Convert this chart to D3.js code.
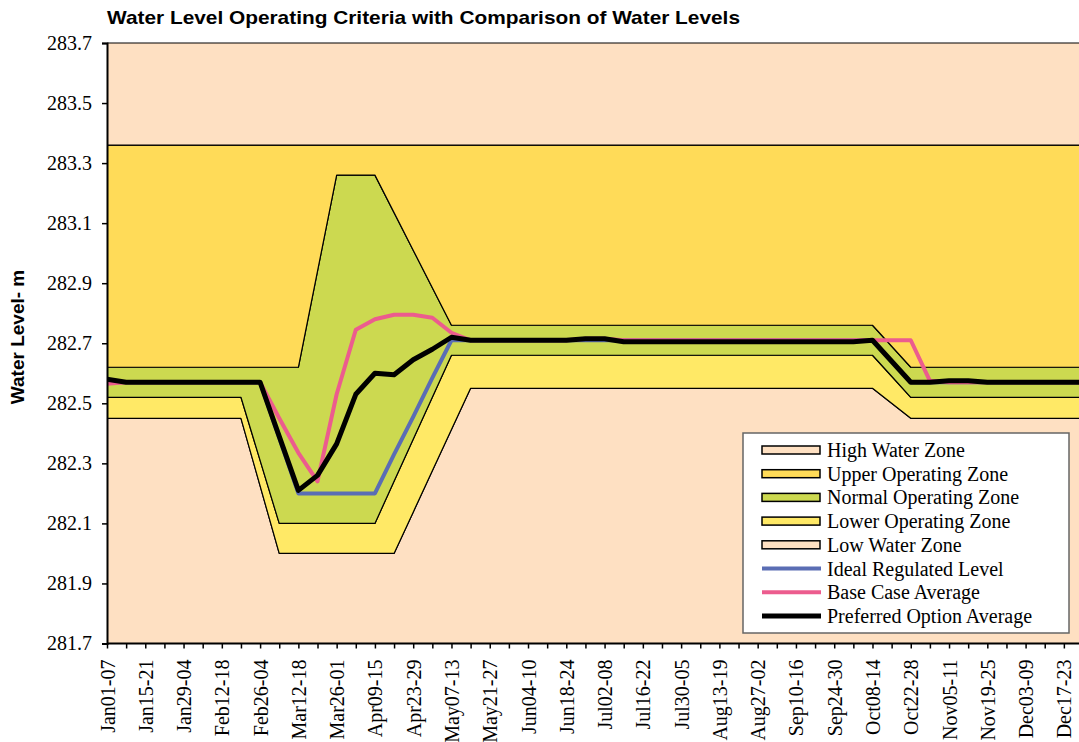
<!DOCTYPE html>
<html lang="en">
<head>
    <meta charset="UTF-8">
    <title>Water Level Operating Criteria</title>
    <script src="https://d3js.org/d3.v7.min.js"></script>
    <style>
        body { margin: 0; background: #fff; }
        .tick-y { font-family: "Liberation Serif", "Times New Roman", serif; font-size: 20px; }
        .tick-x { font-family: "Liberation Serif", "Times New Roman", serif; font-size: 20px; }
        .legend-text { font-family: "Liberation Serif", "Times New Roman", serif; font-size: 20px; }
    </style>
</head>
<body>
    <svg id="chart" width="1079" height="742"></svg>
    <script>
        // weekly categories
        const weeks = [
            "Jan01-07", "Jan08-14", "Jan15-21", "Jan22-28", "Jan29-04", "Feb05-11", "Feb12-18", "Feb19-25",
            "Feb26-04", "Mar05-11", "Mar12-18", "Mar19-25", "Mar26-01", "Apr02-08", "Apr09-15", "Apr16-22",
            "Apr23-29", "Apr30-06", "May07-13", "May14-20", "May21-27", "May28-03", "Jun04-10", "Jun11-17",
            "Jun18-24", "Jun25-01", "Jul02-08", "Jul09-15", "Jul16-22", "Jul23-29", "Jul30-05", "Aug06-12",
            "Aug13-19", "Aug20-26", "Aug27-02", "Sep03-09", "Sep10-16", "Sep17-23", "Sep24-30", "Oct01-07",
            "Oct08-14", "Oct15-21", "Oct22-28", "Oct29-04", "Nov05-11", "Nov12-18", "Nov19-25", "Nov26-02",
            "Dec03-09", "Dec10-16", "Dec17-23", "Dec24-30"
        ];

        const yTicks = [281.7, 281.9, 282.1, 282.3, 282.5, 282.7, 282.9, 283.1, 283.3, 283.5, 283.7];

        // zone boundaries (m)
        const chartTop = 283.7;
        const chartBottom = 281.7;
        const upperTop = [
            283.36, 283.36, 283.36, 283.36, 283.36, 283.36, 283.36, 283.36, 283.36, 283.36, 283.36, 283.36, 283.36,
            283.36, 283.36, 283.36, 283.36, 283.36, 283.36, 283.36, 283.36, 283.36, 283.36, 283.36, 283.36, 283.36,
            283.36, 283.36, 283.36, 283.36, 283.36, 283.36, 283.36, 283.36, 283.36, 283.36, 283.36, 283.36, 283.36,
            283.36, 283.36, 283.36, 283.36, 283.36, 283.36, 283.36, 283.36, 283.36, 283.36, 283.36, 283.36, 283.36
        ];
        const normalTop = [
            282.62, 282.62, 282.62, 282.62, 282.62, 282.62, 282.62, 282.62, 282.62, 282.62, 282.62, 282.94, 283.26,
            283.26, 283.26, 283.135, 283.01, 282.885, 282.76, 282.76, 282.76, 282.76, 282.76, 282.76, 282.76, 282.76,
            282.76, 282.76, 282.76, 282.76, 282.76, 282.76, 282.76, 282.76, 282.76, 282.76, 282.76, 282.76, 282.76,
            282.76, 282.76, 282.69, 282.62, 282.62, 282.62, 282.62, 282.62, 282.62, 282.62, 282.62, 282.62, 282.62
        ];
        const normalBottom = [
            282.52, 282.52, 282.52, 282.52, 282.52, 282.52, 282.52, 282.52, 282.31, 282.10, 282.10, 282.10, 282.10,
            282.10, 282.10, 282.24, 282.38, 282.52, 282.66, 282.66, 282.66, 282.66, 282.66, 282.66, 282.66, 282.66,
            282.66, 282.66, 282.66, 282.66, 282.66, 282.66, 282.66, 282.66, 282.66, 282.66, 282.66, 282.66, 282.66,
            282.66, 282.66, 282.59, 282.52, 282.52, 282.52, 282.52, 282.52, 282.52, 282.52, 282.52, 282.52, 282.52
        ];
        const lowerBottom = [
            282.45, 282.45, 282.45, 282.45, 282.45, 282.45, 282.45, 282.45, 282.225, 282.00, 282.00, 282.00, 282.00,
            282.00, 282.00, 282.00, 282.1375, 282.275, 282.4125, 282.55, 282.55, 282.55, 282.55, 282.55, 282.55, 282.55,
            282.55, 282.55, 282.55, 282.55, 282.55, 282.55, 282.55, 282.55, 282.55, 282.55, 282.55, 282.55, 282.55,
            282.55, 282.55, 282.50, 282.45, 282.45, 282.45, 282.45, 282.45, 282.45, 282.45, 282.45, 282.45, 282.45
        ];

        // water level series (m)
        const idealLevel = [
            282.57, 282.57, 282.57, 282.57, 282.57, 282.57, 282.57, 282.57, 282.57, 282.385, 282.20, 282.20, 282.20,
            282.20, 282.20, 282.33, 282.455, 282.585, 282.71, 282.71, 282.71, 282.71, 282.71, 282.71, 282.71, 282.71,
            282.71, 282.71, 282.71, 282.71, 282.71, 282.71, 282.71, 282.71, 282.71, 282.71, 282.71, 282.71, 282.71,
            282.71, 282.71, 282.64, 282.57, 282.57, 282.57, 282.57, 282.57, 282.57, 282.57, 282.57, 282.57, 282.57
        ];
        const baseCase = [
            282.565, 282.57, 282.57, 282.57, 282.57, 282.57, 282.57, 282.57, 282.57, 282.45, 282.335, 282.24, 282.53,
            282.745, 282.78, 282.795, 282.795, 282.785, 282.735, 282.71, 282.71, 282.71, 282.71, 282.71, 282.71, 282.715,
            282.715, 282.71, 282.71, 282.71, 282.71, 282.71, 282.71, 282.71, 282.71, 282.71, 282.71, 282.71, 282.71,
            282.71, 282.71, 282.71, 282.71, 282.575, 282.57, 282.57, 282.57, 282.57, 282.57, 282.57, 282.57, 282.57
        ];
        const preferred = [
            282.58, 282.57, 282.57, 282.57, 282.57, 282.57, 282.57, 282.57, 282.57, 282.39, 282.21, 282.26, 282.365,
            282.53, 282.60, 282.595, 282.645, 282.68, 282.72, 282.71, 282.71, 282.71, 282.71, 282.71, 282.71, 282.715,
            282.715, 282.705, 282.705, 282.705, 282.705, 282.705, 282.705, 282.705, 282.705, 282.705, 282.705, 282.705, 282.705,
            282.705, 282.71, 282.64, 282.57, 282.57, 282.575, 282.575, 282.57, 282.57, 282.57, 282.57, 282.57, 282.57
        ];

        const svg = d3.select("#chart");

        const plotLeft = 107, plotTop = 43, plotBottom = 643.5;
        const x = d3.scalePoint().domain(weeks).range([plotLeft, 1083]);
        const y = d3.scaleLinear().domain([chartBottom, chartTop]).range([plotBottom, plotTop]);

        const colors = {
            high: "#FEE0C2",
            upper: "#FFDB58",
            normal: "#CCD950",
            lower: "#FFE966",
            low: "#FEE0C2",
            ideal: "#5A6DB4",
            base: "#EC5C8E",
            preferred: "#000000"
        };

        svg.append("clipPath").attr("id", "plot-clip")
            .append("rect").attr("x", plotLeft).attr("y", plotTop - 2)
            .attr("width", 1079 - plotLeft).attr("height", plotBottom - plotTop + 4);

        const plot = svg.append("g").attr("clip-path", "url(#plot-clip)");

        // zones as bands between boundaries
        const zones = [
            { name: "Low Water Zone", fill: colors.low, lo: weeks.map(() => chartBottom), hi: lowerBottom },
            { name: "Lower Operating Zone", fill: colors.lower, lo: lowerBottom, hi: normalBottom },
            { name: "Normal Operating Zone", fill: colors.normal, lo: normalBottom, hi: normalTop },
            { name: "Upper Operating Zone", fill: colors.upper, lo: normalTop, hi: upperTop },
            { name: "High Water Zone", fill: colors.high, lo: upperTop, hi: weeks.map(() => chartTop) }
        ];

        zones.forEach(z => {
            const area = d3.area()
                .x((d, i) => x(weeks[i]))
                .y0((d, i) => y(z.lo[i]))
                .y1((d, i) => y(z.hi[i]));
            plot.append("path")
                .datum(weeks)
                .attr("d", area)
                .attr("fill", z.fill)
                .attr("stroke", "#000")
                .attr("stroke-width", 1.2)
                .attr("stroke-linejoin", "round");
        });

        const series = [
            { name: "Ideal Regulated Level", values: idealLevel, color: colors.ideal, width: 4 },
            { name: "Base Case Average", values: baseCase, color: colors.base, width: 4 },
            { name: "Preferred Option Average", values: preferred, color: colors.preferred, width: 5 }
        ];

        series.forEach(s => {
            const line = d3.line()
                .x((d, i) => x(weeks[i]))
                .y(d => y(d));
            plot.append("path")
                .datum(s.values)
                .attr("d", line)
                .attr("fill", "none")
                .attr("stroke", s.color)
                .attr("stroke-width", s.width)
                .attr("stroke-linejoin", "round");
        });

        // y axis
        const yAxis = svg.append("g")
            .attr("transform", `translate(${plotLeft},0)`)
            .call(d3.axisLeft(y).tickValues(yTicks).tickSize(5).tickPadding(10).tickFormat(d3.format(".1f")));
        yAxis.attr("font-size", null).attr("font-family", null);
        yAxis.select(".domain").attr("stroke-width", 2);
        yAxis.selectAll(".tick line").attr("stroke-width", 1.5);
        yAxis.selectAll("text").attr("class", "tick-y").attr("fill", "#000");

        // x axis
        const xAxis = svg.append("g")
            .attr("transform", `translate(0,${plotBottom})`)
            .call(d3.axisBottom(x).tickSize(5).tickSizeOuter(0).tickFormat((d, i) => i % 2 === 0 ? d : ""));
        xAxis.attr("font-size", null).attr("font-family", null);
        xAxis.select(".domain").attr("stroke-width", 2).attr("d", `M${plotLeft},0H1079`);
        xAxis.selectAll(".tick line").attr("stroke-width", 1.5);
        xAxis.selectAll("text")
            .attr("class", "tick-x")
            .attr("fill", "#000")
            .attr("text-anchor", "end")
            .attr("x", -16)
            .attr("y", 0)
            .attr("dy", "0.35em")
            .attr("transform", "rotate(-90)");

        // title
        svg.append("text")
            .attr("x", plotLeft)
            .attr("y", 24)
            .attr("font-family", "Liberation Sans, Arial, sans-serif")
            .attr("font-weight", "bold")
            .attr("font-size", 19)
            .attr("textLength", 633)
            .attr("lengthAdjust", "spacingAndGlyphs")
            .text("Water Level Operating Criteria with Comparison of Water Levels");

        // y axis title
        svg.append("text")
            .attr("transform", "translate(24,337) rotate(-90)")
            .attr("text-anchor", "middle")
            .attr("font-family", "Liberation Sans, Arial, sans-serif")
            .attr("font-weight", "bold")
            .attr("font-size", 19)
            .text("Water Level- m");

        // legend
        const legend = svg.append("g").attr("transform", "translate(743,433)");
        legend.append("rect")
            .attr("width", 326).attr("height", 200)
            .attr("fill", "#fff").attr("stroke", "#666").attr("stroke-width", 1.5);

        const legendItems = [
            { name: "High Water Zone", type: "box", color: colors.high },
            { name: "Upper Operating Zone", type: "box", color: colors.upper },
            { name: "Normal Operating Zone", type: "box", color: colors.normal },
            { name: "Lower Operating Zone", type: "box", color: colors.lower },
            { name: "Low Water Zone", type: "box", color: colors.low },
            { name: "Ideal Regulated Level", type: "line", color: colors.ideal, width: 4 },
            { name: "Base Case Average", type: "line", color: colors.base, width: 4 },
            { name: "Preferred Option Average", type: "line", color: colors.preferred, width: 5 }
        ];

        const rows = legend.selectAll("g.row").data(legendItems).enter().append("g")
            .attr("class", "row")
            .attr("transform", (d, i) => `translate(0,${17 + i * 23.7})`);

        rows.filter(d => d.type === "box").append("rect")
            .attr("x", 19).attr("y", -4).attr("width", 58).attr("height", 8)
            .attr("fill", d => d.color).attr("stroke", "#000").attr("stroke-width", 1.5);

        rows.filter(d => d.type === "line").append("line")
            .attr("x1", 19).attr("x2", 78).attr("y1", 0).attr("y2", 0)
            .attr("stroke", d => d.color).attr("stroke-width", d => d.width);

        rows.append("text")
            .attr("class", "legend-text")
            .attr("x", 84).attr("y", 0).attr("dy", "0.35em")
            .text(d => d.name);
    </script>
</body>
</html>
